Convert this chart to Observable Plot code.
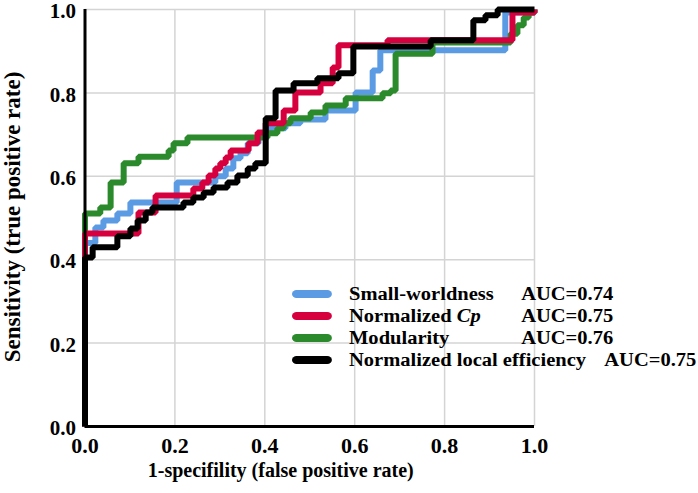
<!DOCTYPE html>
<html>
<head>
<meta charset="utf-8">
<script src="https://cdn.jsdelivr.net/npm/d3@7"></script>
<script src="https://cdn.jsdelivr.net/npm/@observablehq/plot@0.6"></script>
<style>
  html, body { margin: 0; padding: 0; background: #fff; }
  #wrap { position: relative; width: 698px; height: 493px; font-family: "Liberation Serif", "Times New Roman", serif; font-weight: bold; }
  #legend { position: absolute; left: 292px; top: 283px; font-size: 18px; line-height: 22px; color: #000; transform: scaleX(1.14); transform-origin: 0 0; }
  .row { display: flex; align-items: center; height: 22px; white-space: nowrap; }
  .sw { display: inline-block; width: 35px; height: 8px; border-radius: 4px; margin-right: 15px; }
  .nm { display: inline-block; min-width: 135px; padding-right: 16px; }
</style>
</head>
<body>
<div id="wrap"></div>
<script>
// ---- data ----
const seriesNames = ["Small-worldness", "Normalized Cp", "Modularity", "Normalized local efficiency"];
const aucValues = ["0.74", "0.75", "0.76", "0.75"];
const colors = ["#5a9be3", "#d7003f", "#2b8a2b", "#000000"];
const ticks = [0, 0.2, 0.4, 0.6, 0.8, 1.0];

const blueFpr = [0,0,0.023,0.041,0.072,0.101,0.204,0.290,0.313,0.330,0.346,0.362,0.386,0.408,0.446,0.479,0.535,0.602,0.640,0.657,0.935,1];
const blueTpr = [0,0.44,0.477,0.494,0.511,0.537,0.585,0.600,0.619,0.643,0.655,0.679,0.703,0.715,0.727,0.736,0.758,0.801,0.854,0.902,0.993,1];

const redFpr = [0,0,0.119,0.157,0.241,0.261,0.275,0.290,0.301,0.313,0.324,0.364,0.384,0.402,0.442,0.468,0.524,0.551,0.564,0.673,0.951,1];
const redTpr = [0,0.463,0.513,0.554,0.571,0.585,0.602,0.619,0.631,0.645,0.662,0.679,0.705,0.727,0.758,0.801,0.823,0.861,0.914,0.926,0.993,1];

const greenFpr = [0,0,0.034,0.057,0.086,0.119,0.186,0.197,0.228,0.406,0.428,0.442,0.457,0.502,0.535,0.580,0.662,0.680,0.691,0.773,0.947,0.962,0.976,0.987,1];
const greenTpr = [0,0.511,0.525,0.585,0.631,0.647,0.662,0.679,0.693,0.703,0.715,0.727,0.739,0.753,0.770,0.787,0.799,0.806,0.894,0.921,0.942,0.962,0.981,0.993,1];

const blackFpr = [0,0,0.017,0.072,0.101,0.117,0.135,0.150,0.219,0.241,0.264,0.286,0.317,0.339,0.362,0.379,0.402,0.424,0.464,0.517,0.564,0.597,0.769,0.864,0.891,0.918,1];
const blackTpr = [0,0.405,0.43,0.456,0.475,0.494,0.513,0.525,0.537,0.549,0.561,0.573,0.585,0.602,0.619,0.631,0.739,0.806,0.823,0.835,0.847,0.911,0.926,0.974,0.986,1,1];

const xTitle = "1-specifility (false positive rate)";
const yTitle = "Sensitivity (true positive rate)";

// ---- build ----
const pairs = [[blueFpr, blueTpr], [redFpr, redTpr], [greenFpr, greenTpr], [blackFpr, blackTpr]];
const rows = (i) => pairs[i][0].map((x, k) => ({x, y: pairs[i][1][k], s: seriesNames[i]}));

const fontFam = "'Liberation Serif', 'Times New Roman', serif";
const lineMarks = [0, 2, 1, 3].map(i => Plot.line(rows(i), {
  x: "x", y: "y", curve: "step-after", stroke: colors[i], strokeWidth: 6,
  strokeLinecap: "butt", strokeLinejoin: "miter"
}));

const chart = Plot.plot({
  width: 698, height: 493,
  marginLeft: 84.5, marginRight: 164, marginTop: 9, marginBottom: 67,
  style: { fontFamily: fontFam, fontWeight: "bold", background: "#fff", overflow: "visible" },
  x: { domain: [0, 1] },
  y: { domain: [0, 1] },
  marks: [
    Plot.gridX(ticks, { stroke: "#d4d4d4", strokeOpacity: 1, strokeWidth: 1.5 }),
    Plot.gridY(ticks, { stroke: "#d4d4d4", strokeOpacity: 1, strokeWidth: 1.5 }),
    ...lineMarks,
    Plot.ruleX([0], { stroke: "#000", strokeWidth: 3 }),
    Plot.ruleY([0], { stroke: "#000", strokeWidth: 3 }),
    Plot.axisX(ticks, { tickSize: 0, tickPadding: 11, tickFormat: d3.format(".1f"), fontSize: 22, fontWeight: "bold", fill: "#000", label: null }),
    Plot.axisY(ticks, { tickSize: 0, tickPadding: 9, dy: 2, tickFormat: d3.format(".1f"), fontSize: 21, fontWeight: "bold", fill: "#000", label: null }),
    Plot.text([xTitle], { frameAnchor: "bottom", dx: -29, dy: 44, fontSize: 20, fontWeight: "bold", fill: "#000", lineAnchor: "middle" }),
    Plot.text([yTitle], { frameAnchor: "left", textAnchor: "middle", dx: -72, dy: -1, rotate: -90, fontSize: 23, fontWeight: "bold", fill: "#000", lineAnchor: "middle" })
  ]
});

const wrap = document.getElementById("wrap");
wrap.appendChild(chart);

const legend = document.createElement("div");
legend.id = "legend";
seriesNames.forEach((name, i) => {
  const row = document.createElement("div");
  row.className = "row";
  const sw = document.createElement("span");
  sw.className = "sw"; sw.style.background = colors[i];
  const nm = document.createElement("span");
  nm.className = "nm";
  if (name.endsWith(" Cp")) {
    nm.appendChild(document.createTextNode(name.slice(0, -2)));
    const it = document.createElement("i"); it.textContent = "Cp"; nm.appendChild(it);
  } else nm.textContent = name;
  const auc = document.createElement("span");
  auc.textContent = "AUC=" + aucValues[i];
  row.append(sw, nm, auc);
  legend.appendChild(row);
});
wrap.appendChild(legend);
</script>
</body>
</html>
